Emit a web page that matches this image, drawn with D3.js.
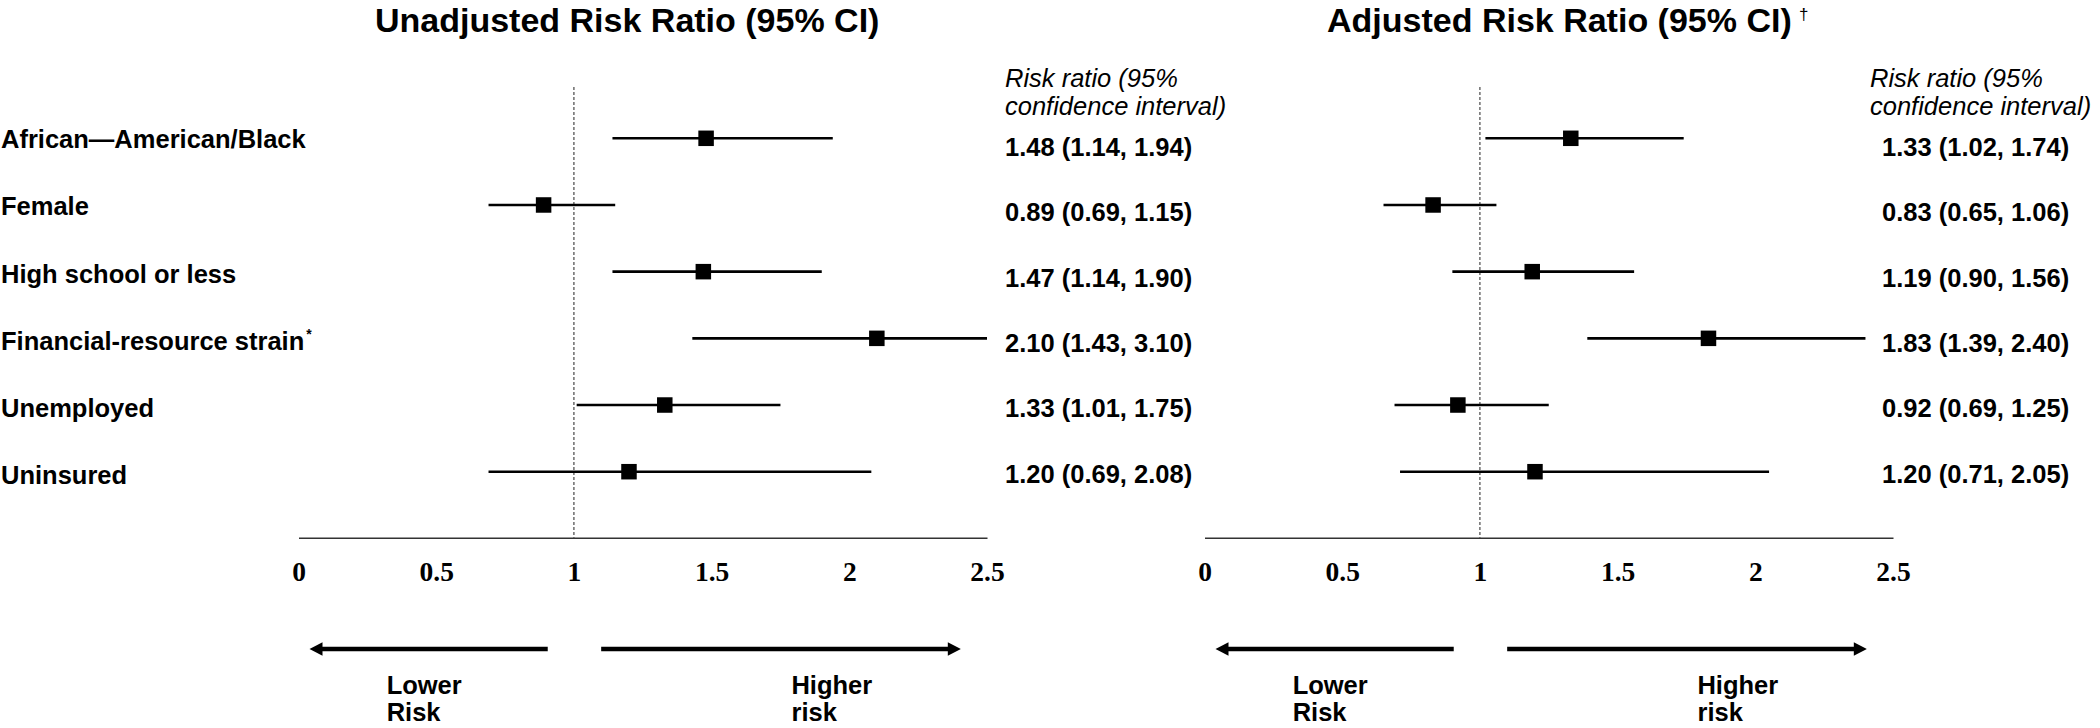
<!DOCTYPE html>
<html>
<head>
<meta charset="utf-8">
<script src="https://cdn.jsdelivr.net/npm/d3@7"></script>
<style>
  html, body { margin: 0; padding: 0; background: #fff; }
  svg { display: block; }
  .sans { font-family: "Liberation Sans", Arial, sans-serif; }
</style>
</head>
<body>
<div id="chart"></div>
<script>
// rows, top to bottom
var labels = ["African\u2014American/Black", "Female", "High school or less",
              "Financial-resource strain", "Unemployed", "Uninsured"];
var labelMarks = ["", "", "", "*", "", ""];

// unadjusted risk ratios
var unadjRR = [1.48, 0.89, 1.47, 2.10, 1.33, 1.20];
var unadjLo = [1.14, 0.69, 1.14, 1.43, 1.01, 0.69];
var unadjHi = [1.94, 1.15, 1.90, 3.10, 1.75, 2.08];

// adjusted risk ratios
var adjRR = [1.33, 0.83, 1.19, 1.83, 0.92, 1.20];
var adjLo = [1.02, 0.65, 0.90, 1.39, 0.69, 0.71];
var adjHi = [1.74, 1.06, 1.56, 2.40, 1.25, 2.05];

var tickValues = [0, 0.5, 1, 1.5, 2, 2.5];
var tickLabels = ["0", "0.5", "1", "1.5", "2", "2.5"];

var width = 2100, height = 728;
var axisY = 537.7;
var fs = 25.5;

var svg = d3.select("#chart").append("svg")
    .attr("width", width).attr("height", height)
    .attr("class", "sans");

svg.append("rect").attr("width", width).attr("height", height).attr("fill", "#fff");

var rows = d3.range(labels.length);
var yRow = d3.scalePoint().domain(rows).range([138.3, 471.7]);
var yLabel = d3.scalePoint().domain(rows).range([148.3, 484]);
var yVal = d3.scalePoint().domain(rows).range([156, 482.5]);

// row labels, only on the left
var lab = svg.append("g").selectAll("text")
    .data(rows)
  .enter().append("text")
    .attr("x", 1)
    .attr("y", d => yLabel(d))
    .attr("font-size", fs)
    .attr("font-weight", "bold");
lab.append("tspan").text(d => labels[d]);
lab.append("tspan")
    .attr("font-size", 14)
    .attr("dx", 2)
    .attr("dy", -11)
    .text(d => labelMarks[d]);

var panels = [
  {rr: unadjRR, lo: unadjLo, hi: unadjHi, x0: 298.5, x1: 987,
   title: "Unadjusted Risk Ratio (95% CI)", titleX: 375, dagger: false,
   headX: 1005, valX: 1005},
  {rr: adjRR, lo: adjLo, hi: adjHi, x0: 1204.5, x1: 1893,
   title: "Adjusted Risk Ratio (95% CI)", titleX: 1327, dagger: true,
   headX: 1870, valX: 1882}
];

panels.forEach(p => {
  var x = d3.scaleLinear().domain([0, 2.5]).range([p.x0, p.x1]).clamp(true);
  var g = svg.append("g");

  // title
  g.append("text")
      .attr("x", p.titleX).attr("y", 32)
      .attr("font-size", 34).attr("font-weight", "bold")
      .text(p.title);
  if (p.dagger) {
    g.append("text")
        .attr("x", 1799).attr("y", 20)
        .attr("font-size", 17)
        .text("\u2020");
  }

  // reference line at 1
  g.append("line")
      .attr("x1", x(1)).attr("x2", x(1))
      .attr("y1", 87).attr("y2", axisY)
      .attr("stroke", "#555").attr("stroke-width", 1.3)
      .attr("stroke-dasharray", "3,2");

  // axis
  var axis = d3.axisBottom(x)
      .tickValues(tickValues)
      .tickFormat((d, i) => tickLabels[i])
      .tickSizeInner(0).tickSizeOuter(0)
      .tickPadding(24);
  var ax = g.append("g").attr("transform", "translate(0," + axisY + ")").call(axis);
  ax.select(".domain").attr("stroke", "#333").attr("stroke-width", 1.4);
  ax.selectAll(".tick text")
      .attr("font-family", "'Liberation Serif', 'Times New Roman', serif")
      .attr("font-weight", "bold")
      .attr("font-size", 27.5)
      .attr("fill", "#000");

  // CI lines
  g.append("g").selectAll("line")
      .data(rows)
    .enter().append("line")
      .attr("x1", d => x(p.lo[d])).attr("x2", d => x(p.hi[d]))
      .attr("y1", d => yRow(d)).attr("y2", d => yRow(d))
      .attr("stroke", "#000").attr("stroke-width", 2.6);

  // point estimates
  var sq = 15.5;
  g.append("g").selectAll("rect")
      .data(rows)
    .enter().append("rect")
      .attr("x", d => x(p.rr[d]) - sq / 2)
      .attr("y", d => yRow(d) - sq / 2)
      .attr("width", sq).attr("height", sq)
      .attr("fill", "#000");

  // column header
  var head = g.append("text")
      .attr("x", p.headX).attr("y", 87)
      .attr("font-size", fs).attr("font-style", "italic");
  head.append("tspan").attr("x", p.headX).text("Risk ratio (95%");
  head.append("tspan").attr("x", p.headX).attr("dy", 28).text("confidence interval)");

  // values
  g.append("g").selectAll("text")
      .data(rows)
    .enter().append("text")
      .attr("x", p.valX).attr("y", d => yVal(d))
      .attr("font-size", fs).attr("font-weight", "bold")
      .text(d => p.rr[d].toFixed(2) + " (" + p.lo[d].toFixed(2) + ", " + p.hi[d].toFixed(2) + ")");

  // direction arrows
  var arrowY = 649, head_l = 13, head_h = 6.8;
  var la = x(0.04), lb = x(0.905), ra = x(1.099), rb = x(2.405);
  g.append("line")
      .attr("x1", la + head_l - 1).attr("x2", lb)
      .attr("y1", arrowY).attr("y2", arrowY)
      .attr("stroke", "#000").attr("stroke-width", 4.6);
  g.append("path")
      .attr("d", "M" + la + "," + arrowY + "L" + (la + head_l) + "," + (arrowY - head_h) +
                 "L" + (la + head_l) + "," + (arrowY + head_h) + "Z")
      .attr("fill", "#000");
  g.append("line")
      .attr("x1", ra).attr("x2", rb - head_l + 1)
      .attr("y1", arrowY).attr("y2", arrowY)
      .attr("stroke", "#000").attr("stroke-width", 4.6);
  g.append("path")
      .attr("d", "M" + rb + "," + arrowY + "L" + (rb - head_l) + "," + (arrowY - head_h) +
                 "L" + (rb - head_l) + "," + (arrowY + head_h) + "Z")
      .attr("fill", "#000");

  // arrow captions
  [["Lower", "Risk", x(0.32)], ["Higher", "risk", x(1.79)]].forEach(c => {
    var t = g.append("text")
        .attr("x", c[2]).attr("y", 694)
        .attr("font-size", fs).attr("font-weight", "bold");
    t.append("tspan").attr("x", c[2]).text(c[0]);
    t.append("tspan").attr("x", c[2]).attr("dy", 27).text(c[1]);
  });
});
</script>
</body>
</html>
